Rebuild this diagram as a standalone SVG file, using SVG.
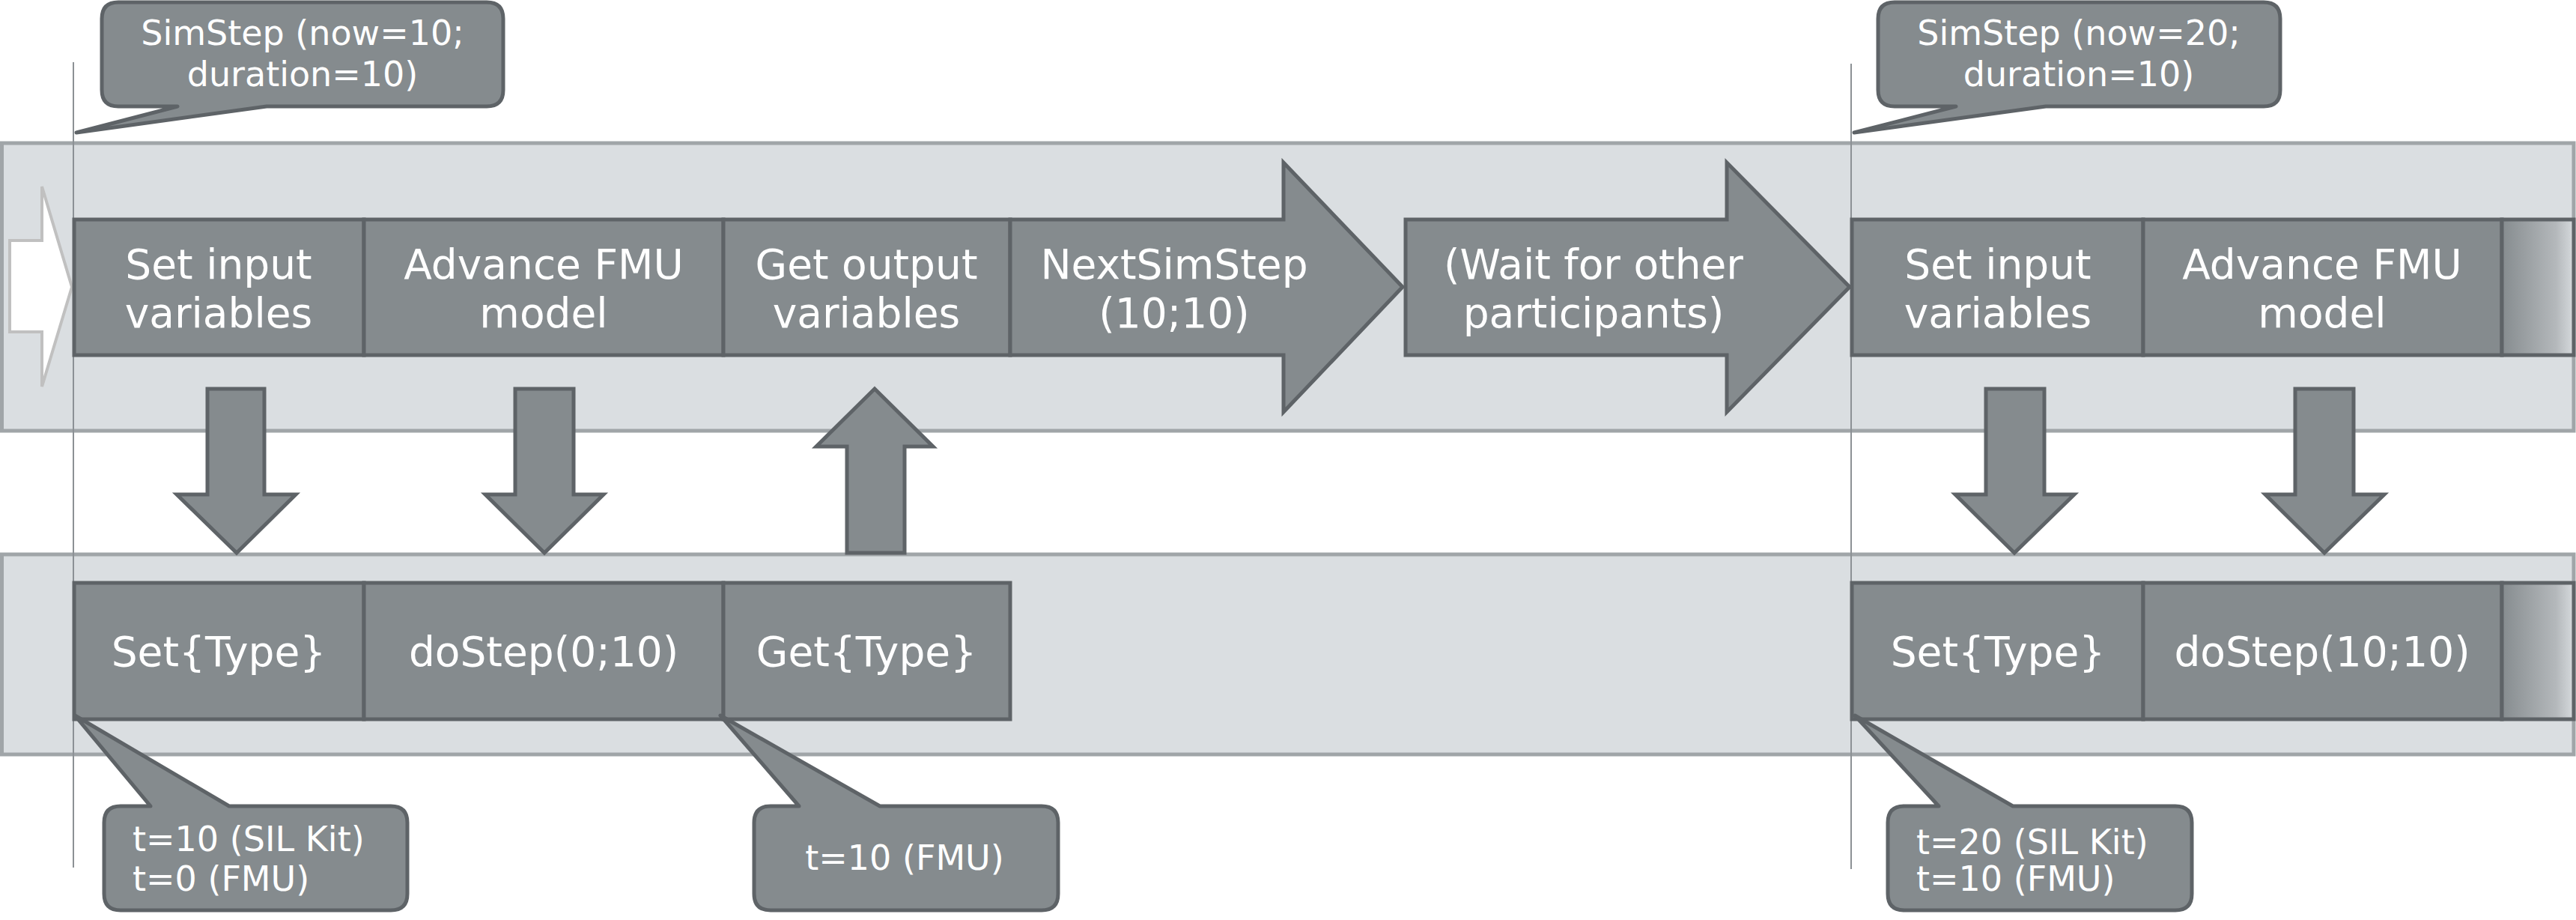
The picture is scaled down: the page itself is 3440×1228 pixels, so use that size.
<svg xmlns="http://www.w3.org/2000/svg" width="3440" height="1228" viewBox="0 0 3440 1228">
<defs>
<linearGradient id="fade" x1="0" y1="0" x2="1" y2="0">
<stop offset="0" stop-color="#868c8f"/>
<stop offset="0.75" stop-color="#b4b8bb"/>
<stop offset="1" stop-color="#d6dadd"/>
</linearGradient>
<style>
.band{fill:#dadee1;stroke:#a0a5a8;stroke-width:5}
.box{fill:#858b8e;stroke:#5e6367;stroke-width:5;stroke-linejoin:miter}
.fade{fill:url(#fade);stroke:#5e6367;stroke-width:5}
.call{fill:#858b8e;stroke:#5e6367;stroke-width:5;stroke-linejoin:round}
.conn{fill:#858b8e;stroke:#5e6367;stroke-width:5;stroke-linejoin:miter}
.start{fill:#ffffff;stroke:#c0c0c0;stroke-width:4}
.vline{stroke:#8c9195;stroke-width:2;fill:none}
text{font-family:"DejaVu Sans",Verdana,sans-serif;fill:#ffffff}
.t{font-size:55px;text-anchor:middle}
.c{font-size:46px}
.cm{font-size:46px;text-anchor:middle}
</style>
</defs>
<rect width="3440" height="1228" fill="#ffffff"/>
<g id="lane-top"><rect class="band" x="2.5" y="191" width="3434.5" height="384"/></g>
<g id="lane-bottom"><rect class="band" x="2.5" y="740" width="3434.5" height="267"/></g>
<g id="timelines">
<line class="vline" x1="98" y1="83" x2="98" y2="1158"/>
<line class="vline" x1="2472" y1="85" x2="2472" y2="1160"/>
</g>
<g id="start"><polygon class="start" points="13,321 56,321 56,249 96,383 56,516 56,443 13,443"/></g>
<g id="set-input-1"><rect class="box" x="99" y="293" width="387" height="181"/><text class="t" x="292" y="372">Set input</text><text class="t" x="292" y="437">variables</text></g>
<g id="advance-fmu-1"><rect class="box" x="486" y="293" width="480" height="181"/><text class="t" x="726" y="372">Advance FMU</text><text class="t" x="726" y="437">model</text></g>
<g id="get-output-1"><rect class="box" x="966" y="293" width="383" height="181"/><text class="t" x="1157" y="372">Get output</text><text class="t" x="1157" y="437">variables</text></g>
<g id="next-sim-step"><polygon class="box" points="1349,293 1714,293 1714,217 1873,383 1714,550 1714,474 1349,474"/><text class="t" x="1568" y="372">NextSimStep</text><text class="t" x="1568" y="437">(10;10)</text></g>
<g id="wait"><polygon class="box" points="1877,293 2306,293 2306,217 2470,383 2306,550 2306,474 1877,474"/><text class="t" x="2128" y="372">(Wait for other</text><text class="t" x="2128" y="437">participants)</text></g>
<g id="set-input-2"><rect class="box" x="2473" y="293" width="389" height="181"/><text class="t" x="2668" y="372">Set input</text><text class="t" x="2668" y="437">variables</text></g>
<g id="advance-fmu-2"><rect class="box" x="2862" y="293" width="479" height="181"/><text class="t" x="3101" y="372">Advance FMU</text><text class="t" x="3101" y="437">model</text></g>
<g id="more-top"><rect class="fade" x="3341" y="293" width="96" height="181"/></g>
<g id="set-type-1"><rect class="box" x="99" y="778" width="387" height="182"/><text class="t" x="292" y="889">Set{Type}</text></g>
<g id="do-step-1"><rect class="box" x="486" y="778" width="480" height="182"/><text class="t" x="726" y="889">doStep(0;10)</text></g>
<g id="get-type-1"><rect class="box" x="966" y="778" width="383" height="182"/><text class="t" x="1157" y="889">Get{Type}</text></g>
<g id="set-type-2"><rect class="box" x="2473" y="778" width="389" height="182"/><text class="t" x="2668" y="889">Set{Type}</text></g>
<g id="do-step-2"><rect class="box" x="2862" y="778" width="479" height="182"/><text class="t" x="3101" y="889">doStep(10;10)</text></g>
<g id="more-bottom"><rect class="fade" x="3341" y="778" width="96" height="182"/></g>
<g id="connectors">
<polygon class="conn" points="277,519 353,519 353,660 395,660 316,738 236,660 277,660"/>
<polygon class="conn" points="688,519 766,519 766,660 806,660 727,738 648,660 688,660"/>
<polygon class="conn" points="1131,738 1131,596 1090,596 1168,519 1246,596 1208,596 1208,738"/>
<polygon class="conn" points="2652,519 2730,519 2730,660 2770,660 2690,738 2611,660 2652,660"/>
<polygon class="conn" points="3065,519 3143,519 3143,660 3184,660 3104,738 3025,660 3065,660"/>
</g>
<g id="callout-simstep-1"><path class="call" d="M158,3 H650 Q672,3 672,25 V120 Q672,142 650,142 H356 L102,177 L237,142 H158 Q136,142 136,120 V25 Q136,3 158,3 Z"/><text class="cm" x="404" y="60">SimStep (now=10;</text><text class="cm" x="404" y="115">duration=10)</text></g>
<g id="callout-simstep-2"><path class="call" d="M2530,3 H3023 Q3045,3 3045,25 V120 Q3045,142 3023,142 H2732 L2476,177 L2612,142 H2530 Q2508,142 2508,120 V25 Q2508,3 2530,3 Z"/><text class="cm" x="2776" y="60">SimStep (now=20;</text><text class="cm" x="2776" y="115">duration=10)</text></g>
<g id="callout-t10"><path class="call" d="M161,1076 H201 L100,955 L306,1076 H522 Q544,1076 544,1098 V1193 Q544,1215 522,1215 H161 Q139,1215 139,1193 V1098 Q139,1076 161,1076 Z"/><text class="c" x="177" y="1136">t=10 (SIL Kit)</text><text class="c" x="177" y="1189">t=0 (FMU)</text></g>
<g id="callout-fmu10"><path class="call" d="M1029,1076 H1067 L962,955 L1175,1076 H1391 Q1413,1076 1413,1098 V1193 Q1413,1215 1391,1215 H1029 Q1007,1215 1007,1193 V1098 Q1007,1076 1029,1076 Z"/><text class="cm" x="1208" y="1161">t=10 (FMU)</text></g>
<g id="callout-t20"><path class="call" d="M2543,1076 H2589 L2477,955 L2688,1076 H2905 Q2927,1076 2927,1098 V1193 Q2927,1215 2905,1215 H2543 Q2521,1215 2521,1193 V1098 Q2521,1076 2543,1076 Z"/><text class="c" x="2559" y="1140">t=20 (SIL Kit)</text><text class="c" x="2559" y="1189">t=10 (FMU)</text></g>
</svg>
